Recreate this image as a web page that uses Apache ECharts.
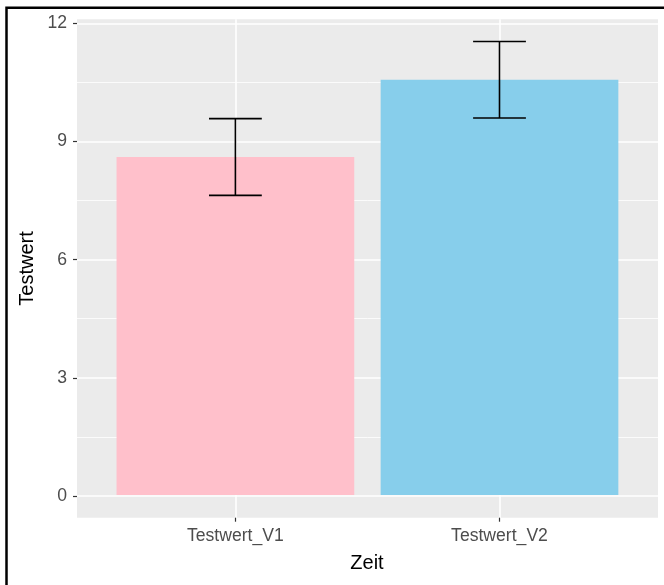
<!DOCTYPE html>
<html>
<head>
<meta charset="utf-8">
<script src="https://cdn.jsdelivr.net/npm/echarts@6/dist/echarts.min.js"></script>
<style>
html,body{margin:0;padding:0;background:#fff;}
#chart{width:664px;height:585px;}
</style>
</head>
<body>
<div id="chart"></div>
<script>
// Data
var categories = ['Testwert_V1', 'Testwert_V2'];
var means = [8.58, 10.54];
var se = [0.975, 0.97];
var barColors = ['#FFC0CB', '#87CEEB'];
var yTicks = [0, 3, 6, 9, 12];
var xTitle = 'Zeit';
var yTitle = 'Testwert';

var yLow = -0.575, yHigh = 12.075; // ggplot expanded range

var chart = echarts.init(document.getElementById('chart'));
var font = 'Liberation Sans, Arial, sans-serif';

var barData = means.map(function (m, i) {
  return { value: m, itemStyle: { color: barColors[i] } };
});
var errData = means.map(function (m, i) {
  return [i, m - se[i], m + se[i]];
});

var option = {
  backgroundColor: '#ffffff',
  animation: false,
  grid: [
    { left: 77, top: 19.3, width: 581, height: 498.4, show: true, backgroundColor: '#EBEBEB', borderWidth: 0 },
    { left: 77, top: 23.3, width: 581, height: 472.7, show: false },
    { left: 235.4, top: 19.3, width: 264.1, height: 498.4, show: false }
  ],
  xAxis: [
    { gridIndex: 0, type: 'value', show: false, min: 0, max: 1 },
    { gridIndex: 1, type: 'value', show: false, min: 0, max: 1 },
    {
      gridIndex: 2, type: 'category', data: categories, boundaryGap: false,
      axisLine: { show: false, onZero: false },
      axisTick: { show: true, length: 4, lineStyle: { color: '#333333', width: 1.2 } },
      axisLabel: { color: '#4D4D4D', fontFamily: font, fontSize: 17.6, margin: 9 },
      splitLine: { show: true, lineStyle: { color: '#ffffff', width: 1.6 } }
    }
  ],
  yAxis: [
    { gridIndex: 0, type: 'value', show: false, min: 0, max: 1 },
    {
      gridIndex: 1, type: 'value', min: 0, max: 12, interval: 3,
      axisLine: { show: false },
      axisTick: { show: true, length: 4, lineStyle: { color: '#333333', width: 1.2 } },
      axisLabel: { color: '#4D4D4D', fontFamily: font, fontSize: 17.6, margin: 10,
        formatter: function (v) { return yTicks.indexOf(v) >= 0 ? String(v) : ''; } },
      splitLine: { show: true, lineStyle: { color: '#ffffff', width: 1.6 } },
      minorTick: { show: false, splitNumber: 2 },
      minorSplitLine: { show: true, lineStyle: { color: '#ffffff', width: 0.8 } }
    },
    { gridIndex: 2, type: 'value', min: yLow, max: yHigh, show: false, splitLine: { show: false } }
  ],
  series: [
    {
      type: 'bar', xAxisIndex: 2, yAxisIndex: 2, data: barData,
      barWidth: 237.7, clip: false, z: 3
    },
    {
      type: 'custom', xAxisIndex: 2, yAxisIndex: 2, data: errData, clip: false, z: 4,
      renderItem: function (params, api) {
        var x = api.value(0);
        var lo = api.coord([x, api.value(1)]);
        var hi = api.coord([x, api.value(2)]);
        var hw = 26.4;
        var st = { stroke: '#000000', lineWidth: 1.6 };
        return {
          type: 'group',
          children: [
            { type: 'line', shape: { x1: lo[0], y1: lo[1], x2: hi[0], y2: hi[1] }, style: st },
            { type: 'line', shape: { x1: hi[0] - hw, y1: hi[1], x2: hi[0] + hw, y2: hi[1] }, style: st },
            { type: 'line', shape: { x1: lo[0] - hw, y1: lo[1], x2: lo[0] + hw, y2: lo[1] }, style: st }
          ]
        };
      }
    }
  ],
  graphic: [
    {
      type: 'text', x: 367, y: 553,
      style: { text: xTitle, fill: '#000000', font: '20px ' + font, align: 'center', verticalAlign: 'top' }
    },
    {
      type: 'text', x: 17, y: 268.5, rotation: Math.PI / 2,
      style: { text: yTitle, fill: '#000000', font: '20px ' + font, align: 'center', verticalAlign: 'top' }
    },
    {
      type: 'rect', shape: { x: 6.5, y: 7.8, width: 800, height: 800 },
      style: { fill: 'none', stroke: '#000000', lineWidth: 2.5 }, z: 100
    }
  ]
};
chart.setOption(option);
</script>
</body>
</html>
